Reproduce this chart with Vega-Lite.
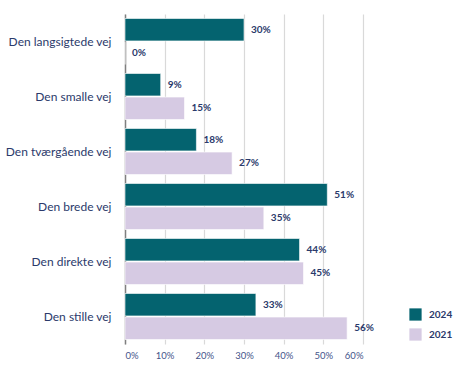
{
  "$schema": "https://vega.github.io/schema/vega-lite/v6.json",
  "autosize": "none",
  "width": 238,
  "height": 330,
  "padding": {"left": 125, "top": 14, "right": 108, "bottom": 29},
  "background": "white",
  "config": {
    "font": "Lato",
    "view": {"stroke": null}
  },
  "data": {
    "values": [
      {"vej": "Den langsigtede vej", "year": "2024", "value": 0.30},
      {"vej": "Den langsigtede vej", "year": "2021", "value": 0.0},
      {"vej": "Den smalle vej", "year": "2024", "value": 0.09},
      {"vej": "Den smalle vej", "year": "2021", "value": 0.15},
      {"vej": "Den tværgående vej", "year": "2024", "value": 0.18},
      {"vej": "Den tværgående vej", "year": "2021", "value": 0.27},
      {"vej": "Den brede vej", "year": "2024", "value": 0.51},
      {"vej": "Den brede vej", "year": "2021", "value": 0.35},
      {"vej": "Den direkte vej", "year": "2024", "value": 0.44},
      {"vej": "Den direkte vej", "year": "2021", "value": 0.45},
      {"vej": "Den stille vej", "year": "2024", "value": 0.33},
      {"vej": "Den stille vej", "year": "2021", "value": 0.56}
    ]
  },
  "encoding": {
    "y": {
      "field": "vej",
      "type": "nominal",
      "sort": null,
      "scale": {"paddingInner": 0.164, "paddingOuter": 0.082},
      "axis": {
        "title": null,
        "domain": true,
        "domainColor": "#7F7F7F",
        "domainWidth": 1.5,
        "ticks": false,
        "labelPadding": 14,
        "labelFontSize": 12,
        "labelColor": "#2B3A6B",
        "labelLimit": 200
      }
    },
    "yOffset": {
      "field": "year",
      "type": "nominal",
      "scale": {"domain": ["2024", "2021"], "paddingInner": 0.05}
    },
    "x": {
      "field": "value",
      "type": "quantitative",
      "scale": {"domain": [0, 0.6], "nice": false},
      "axis": {
        "title": null,
        "format": ".0%",
        "values": [0, 0.1, 0.2, 0.3, 0.4, 0.5, 0.6],
        "domain": false,
        "ticks": false,
        "grid": true,
        "gridColor": "#D9D9D9",
        "gridWidth": 1.2,
        "labelPadding": 6,
        "labelFontSize": 9.5,
        "labelColor": "#44548A"
      }
    }
  },
  "layer": [
    {
      "mark": {"type": "bar", "stroke": "white", "strokeWidth": 0.6},
      "encoding": {
        "color": {
          "field": "year",
          "type": "nominal",
          "scale": {"domain": ["2024", "2021"], "range": ["#04636F", "#D6CAE3"]},
          "legend": {
            "title": null,
            "orient": "none",
            "legendX": 284,
            "legendY": 294,
            "symbolType": "square",
            "symbolSize": 150,
            "symbolStrokeWidth": 0,
            "rowPadding": 7,
            "labelFontSize": 10,
            "labelFontWeight": "bold",
            "labelColor": "#2B3A6B",
            "labelOffset": 7
          }
        }
      }
    },
    {
      "mark": {"type": "text", "align": "left", "dx": 7, "fontSize": 10, "fontWeight": "bold", "color": "#2B3A6B"},
      "encoding": {
        "text": {"field": "value", "type": "quantitative", "format": ".0%"}
      }
    }
  ]
}
